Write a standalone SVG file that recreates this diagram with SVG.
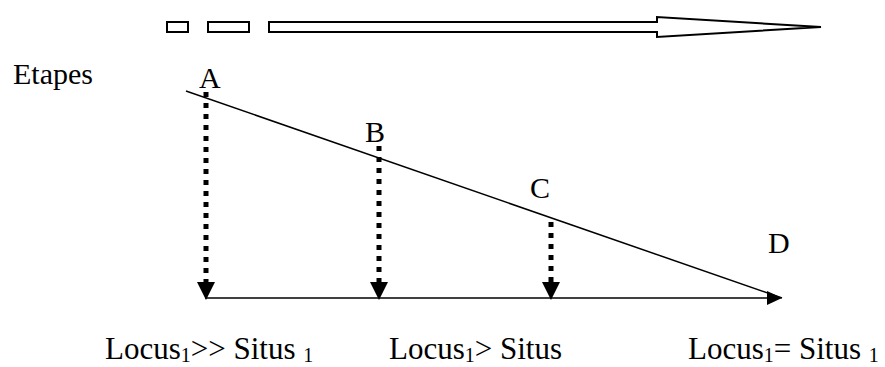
<svg xmlns="http://www.w3.org/2000/svg" width="885" height="367" viewBox="0 0 885 367">
<style>
text{font-family:'Liberation Serif','Times New Roman','DejaVu Serif',serif;fill:#000}
.t{font-size:30px}
.l{font-size:31px}
.s{font-size:20px}
.box{fill:#fff;stroke:#000;stroke-width:2}
.ln{stroke:#000;stroke-width:1.5;fill:none}
.dot{stroke:#000;stroke-width:5;stroke-dasharray:5 6;fill:none}
.hd{fill:#000}
</style>
<rect width="885" height="367" fill="#fff"/>
<g id="progress">
<rect class="box" x="167" y="22" width="21" height="10"/>
<rect class="box" x="208" y="22" width="41" height="10"/>
<polygon class="box" points="269,22 657,22 657,17 821,27 657,37 657,32 269,32"/>
</g>
<g id="connectors">
<line class="ln" x1="186" y1="91" x2="782" y2="298"/>
<line class="ln" x1="205" y1="298" x2="770" y2="298"/>
<polygon class="hd" points="767,291 782,298 767,305"/>
<line class="dot" x1="206" y1="92" x2="206" y2="283"/>
<polygon class="hd" points="197,282 215,282 206,300"/>
<line class="dot" x1="379" y1="146" x2="379" y2="283"/>
<polygon class="hd" points="370,282 388,282 379,300"/>
<line class="dot" x1="551" y1="222" x2="551" y2="283"/>
<polygon class="hd" points="542,282 560,282 551,300"/>
</g>
<g id="etapes"><text class="t" font-family="Liberation Serif, serif" x="13" y="84">Etapes</text></g>
<g id="A"><text class="t" font-family="Liberation Serif, serif" x="199" y="88">A</text></g>
<g id="B"><text class="t" font-family="Liberation Serif, serif" x="365" y="142">B</text></g>
<g id="C"><text class="t" font-family="Liberation Serif, serif" x="530" y="198">C</text></g>
<g id="D"><text class="t" font-family="Liberation Serif, serif" x="768" y="253">D</text></g>
<g id="label1"><text class="l" font-family="Liberation Serif, serif" x="105" y="359">Locus<tspan class="s" dy="3">1</tspan><tspan dy="-3">&gt;&gt; Situs </tspan><tspan class="s" dy="3">1</tspan></text></g>
<g id="label2"><text class="l" font-family="Liberation Serif, serif" x="389" y="359">Locus<tspan class="s" dy="3">1</tspan><tspan dy="-3">&gt; Situs</tspan></text></g>
<g id="label3"><text class="l" font-family="Liberation Serif, serif" x="688" y="359">Locus<tspan class="s" dy="3">1</tspan><tspan dy="-3">= Situs </tspan><tspan class="s" dy="3">1</tspan></text></g>
</svg>
